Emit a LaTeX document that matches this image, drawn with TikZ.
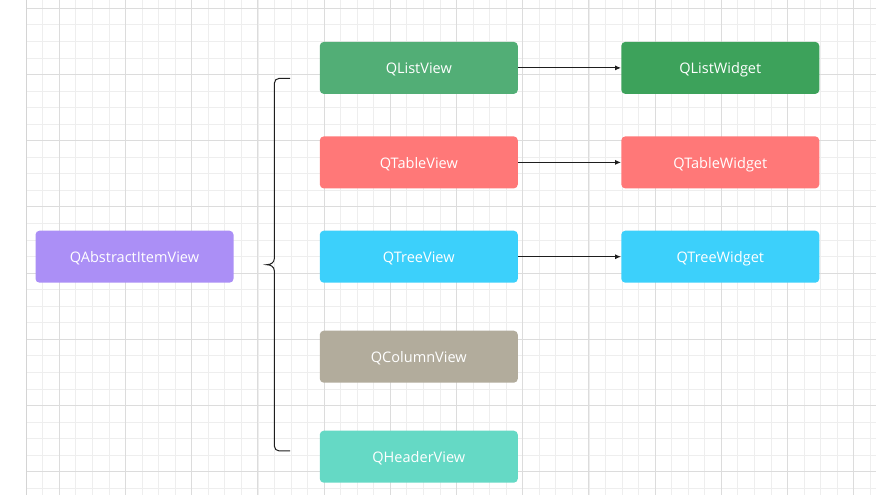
\documentclass[tikz,border=0pt]{standalone}
\usepackage{fontspec}
\setmainfont{Open Sans}
\usetikzlibrary{arrows.meta}
\definecolor{gminor}{HTML}{EEEEEE}
\definecolor{gmajor}{HTML}{DCDCDC}
\definecolor{gborder}{HTML}{D4D4D4}
\definecolor{cabs}{HTML}{AB8FF6}
\definecolor{clistv}{HTML}{52AE76}
\definecolor{clistw}{HTML}{3DA25B}
\definecolor{ctable}{HTML}{FF7878}
\definecolor{ctree}{HTML}{3CD0FB}
\definecolor{ccol}{HTML}{B2AC9C}
\definecolor{chead}{HTML}{65D9C5}
\definecolor{cline}{HTML}{1E1E1E}
\tikzset{
  box/.style={rectangle, rounded corners=3pt, minimum width=148.5pt, minimum height=39pt,
    inner sep=0pt, text=white, font=\fontsize{10.9pt}{12pt}\selectfont,
    text height=9pt, text depth=0pt},
  conn/.style={draw=cline, line width=0.75pt, -{Latex[length=4.5pt,width=3.8pt]}},
  bracestyle/.style={draw=cline, line width=0.75pt},
  minorline/.style={draw=gminor, line width=0.6pt},
  majorline/.style={draw=gmajor, line width=0.75pt}
}
\begin{document}
\begin{tikzpicture}[x=0.75pt, y=-0.75pt]
\useasboundingbox (0,0) rectangle (876,495);
\fill[white] (0,0) rectangle (876,495);
% grid
\foreach \k in {0,...,51} {\draw[minorline] ({26.2+16.55*\k},0) -- ({26.2+16.55*\k},495);}
\foreach \k in {0,...,29} {\draw[minorline] (26.2,{8.3+16.55*\k}) -- (876,{8.3+16.55*\k});}
\foreach \k in {0,...,12} {\draw[majorline] ({59.3+66.2*\k},0) -- ({59.3+66.2*\k},495);}
\foreach \k in {0,...,7} {\draw[majorline] (26.2,{8.3+66.2*\k}) -- (876,{8.3+66.2*\k});}
\draw[draw=gborder, line width=0.75pt] (26.2,0) -- (26.2,495);
% nodes
\node[box, fill=cabs] (abs) at (134.5,256.7) {QAbstractItemView};
\node[box, fill=clistv] (listv) at (418.8,67.9) {QListView};
\node[box, fill=ctable] (tablev) at (418.8,162.4) {QTableView};
\node[box, fill=ctree] (treev) at (418.8,256.7) {QTreeView};
\node[box, fill=ccol] (colv) at (418.8,356.7) {QColumnView};
\node[box, fill=chead] (headv) at (418.8,456.7) {QHeaderView};
\node[box, fill=clistw] (listw) at (720.3,67.9) {QListWidget};
\node[box, fill=ctable] (tablew) at (720.3,162.4) {QTableWidget};
\node[box, fill=ctree] (treew) at (720.3,256.7) {QTreeWidget};
% arrows
\draw[conn] (listv.east) -- (listw.west);
\draw[conn] (tablev.east) -- (tablew.west);
\draw[conn] (treev.east) -- (treew.west);
% brace
\coordinate (btop) at (290,78.3);
\coordinate (bbot) at (290,451);
\coordinate (btip) at (266.7,264.7);
\draw[bracestyle] (btop) -- (279.3,78.3) arc[start angle=270, end angle=180, radius=5]
  -- (274.3,258.7)
  .. controls (274.3,262.7) and (270.5,264.7) .. (btip)
  .. controls (270.5,264.7) and (274.3,266.7) .. (274.3,270.7)
  -- (274.3,446) arc[start angle=180, end angle=90, radius=5] -- (bbot);
\end{tikzpicture}
\end{document}
